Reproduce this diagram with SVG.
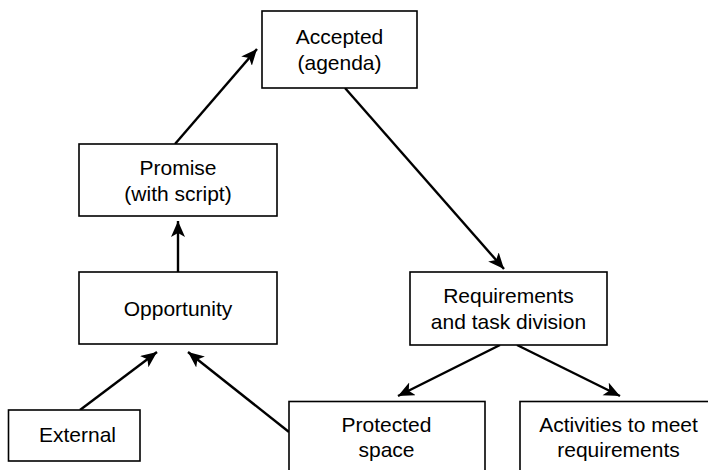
<svg xmlns="http://www.w3.org/2000/svg" width="708" height="470" viewBox="0 0 708 470">
<style>
.box{fill:#fff;stroke:#000;stroke-width:1.6}
.lbl{font-family:"Liberation Sans",Arial,sans-serif;font-size:21px;fill:#000;text-anchor:middle}
.edge{stroke:#000;stroke-width:2.4;fill:none;marker-end:url(#ah)}
</style>
<defs>
<marker id="ah" markerUnits="userSpaceOnUse" markerWidth="18" markerHeight="16" refX="16" refY="7" orient="auto">
<path d="M0,0 L16,7 L0,14 L4,7 z" fill="#000"/>
</marker>
</defs>
<rect width="708" height="470" fill="#fff"/>
<g id="connectors">
<line class="edge" x1="175" y1="144" x2="257" y2="49"/>
<line class="edge" x1="178" y1="272" x2="178" y2="221"/>
<line class="edge" x1="345" y1="88" x2="504" y2="269"/>
<line class="edge" x1="80" y1="410" x2="157" y2="352"/>
<line class="edge" x1="289" y1="432" x2="188" y2="352"/>
<line class="edge" x1="500" y1="345" x2="398" y2="396"/>
<line class="edge" x1="517" y1="345" x2="620" y2="396"/>
</g>
<g id="accepted">
<rect class="box" x="262" y="11" width="155" height="77"/>
<text class="lbl" x="339.5" y="43.5">Accepted</text>
<text class="lbl" x="339.5" y="69.5">(agenda)</text>
</g>
<g id="promise">
<rect class="box" x="79" y="144" width="198" height="72"/>
<text class="lbl" x="178" y="174.5">Promise</text>
<text class="lbl" x="178" y="200.5">(with script)</text>
</g>
<g id="opportunity">
<rect class="box" x="79" y="272" width="198" height="72"/>
<text class="lbl" x="178" y="315.5">Opportunity</text>
</g>
<g id="requirements">
<rect class="box" x="410" y="272" width="197" height="73"/>
<text class="lbl" x="508.5" y="302.5">Requirements</text>
<text class="lbl" x="508.5" y="328.5">and task division</text>
</g>
<g id="external">
<rect class="box" x="8.5" y="410" width="131.5" height="51"/>
<text class="lbl" x="77.5" y="442">External</text>
</g>
<g id="protected">
<rect class="box" x="289" y="401.5" width="196" height="80"/>
<text class="lbl" x="386.5" y="432">Protected</text>
<text class="lbl" x="386.5" y="457">space</text>
</g>
<g id="activities">
<rect class="box" x="520" y="401.5" width="200" height="80"/>
<text class="lbl" x="618.5" y="432">Activities to meet</text>
<text class="lbl" x="618.5" y="457">requirements</text>
</g>
</svg>
